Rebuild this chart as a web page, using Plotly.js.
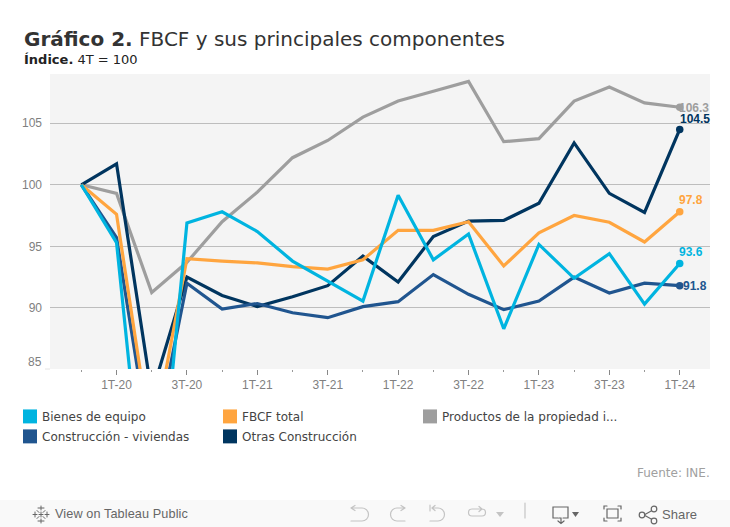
<!DOCTYPE html>
<html><head><meta charset="utf-8">
<script src="https://cdn.plot.ly/plotly-3.0.1.min.js"></script>
<style>
html,body{margin:0;padding:0;background:#fff;width:730px;height:527px;overflow:hidden}
#c{position:absolute;left:0;top:0;width:730px;height:527px}
#bar{position:absolute;left:0;top:500px;width:730px;height:27px;background:#f9f9f9;font-family:"Liberation Sans",Arial,sans-serif;font-size:13px;color:#666}
#bar span{position:absolute;top:6px;letter-spacing:.1px}
#bar svg{position:absolute;left:0;top:0}
</style></head><body>
<div id="c"></div>
<div id="bar">
<svg width="730" height="27" fill="none" stroke-linecap="round">
<g stroke="#666" stroke-width="1">
<path d="M41 6v4M41 19v4M38 8h6M38 21h6M33 14.500h4M45 14.500h4M35 12v5M47 12v5M37 10.500l2 2M45 10.500l-2 2M37 18.500l2-2M45 18.500l-2-2M41 12v5M39 14.500h4"/>
</g>
<g stroke="#c4c4c4" stroke-width="1.200">
<path d="M351 8h11a6 6 0 0 1 0 13h-11M351 8l4-2.500M351 8l4 2.500"/>
<path d="M405 8h-8a6 6 0 0 0 0 13h8M405 8l-4-2.500M405 8l-4 2.500"/>
<path d="M430 5v6M432 8h6a6 6 0 0 1 0 13h-8M432 8l3-2.500M432 8l3 2.500"/>
<path d="M482 9h-10a3.500 3.500 0 0 0 0 7h10a3.500 3.500 0 0 0 0-7M482 9l-3-2.500M482 9l-3 2.500"/>
<path d="M525 3v15"/>
</g>
<path d="M496 12h8l-4 5z" fill="#c4c4c4"/>
<g stroke="#666" stroke-width="1.200">
<path d="M558 18h-5v-11h15v11h-5M559 18h2v4M558 21l3 2.500 3-2.500"/>
<path d="M604 9v-3h3M618 6h3v3M621 18v3h-3M607 21h-3v-3M607 9h11v9h-11z"/>
<path d="M644 15l9-5M644 15l9 5"/>
<circle cx="642" cy="15" r="2.800" fill="#f9f9f9"/><circle cx="654" cy="9" r="2.800" fill="#f9f9f9"/><circle cx="654" cy="21" r="2.800" fill="#f9f9f9"/>
</g>
<path d="M572 12h7l-3.500 5z" fill="#666"/>
</svg>
<span style="left:55px;top:7px;font-size:12.700px">View on Tableau Public</span>
<span style="left:662px;top:7px">Share</span>
</div>
<script>
const quarters = ["4T-19","1T-20","2T-20","3T-20","4T-20","1T-21","2T-21","3T-21","4T-21","1T-22","2T-22","3T-22","4T-22","1T-23","2T-23","3T-23","4T-23","1T-24"];
const bienes = [100,95.3,67.5,96.9,97.8,96.2,93.8,92.2,90.55,99.15,93.9,96.0,88.3,95.15,92.4,94.4,90.3,93.6];
const fbcf = [100,97.6,78.8,94,93.8,93.65,93.35,93.15,93.9,96.3,96.3,97,93.4,96.1,97.5,96.95,95.35,97.8];
const productos = [100,99.3,91.25,93.7,97,99.4,102.2,103.6,105.5,106.8,107.6,108.4,103.5,103.75,106.8,107.95,106.65,106.3];
const viviendas = [100,95.7,77.8,92,89.9,90.35,89.6,89.2,90.1,90.5,92.7,91.1,89.85,90.55,92.5,91.2,92.0,91.8];
const otras = [100,101.7,83,92.5,91,90.1,90.9,91.8,94.2,92.1,95.8,97.05,97.1,98.5,103.4,99.3,97.75,104.5];
const yTicks = [90,95,100,105];
const xLabels = ["1T-20","3T-20","1T-21","3T-21","1T-22","3T-22","1T-23","3T-23","1T-24"];
const xMinor = ["4T-19","2T-20","4T-20","2T-21","4T-21","2T-22","4T-22","2T-23","4T-23"];

const W=730,H=527,L=50,R=710,T=74,B=369.5;
const px=x=>(x-L)/(R-L), py=y=>(B-y)/(B-T);
const C={b:"#00B4E0",f:"#FFA53F",p:"#9E9E9E",v:"#20558F",o:"#00355F"};
const series=[
 {name:"Productos de la propiedad i...",y:productos,c:C.p},
 {name:"Otras Construcción",y:otras,c:C.o},
 {name:"Construcción - viviendas",y:viviendas,c:C.v},
 {name:"FBCF total",y:fbcf,c:C.f},
 {name:"Bienes de equipo",y:bienes,c:C.b}
];
const data=series.map(s=>({type:"scatter",mode:"lines+markers",name:s.name,x:quarters,y:s.y,
 line:{color:s.c,width:3.2,shape:"linear"},marker:{color:s.c,opacity:1,size:quarters.map((q,i)=>i===quarters.length-1?7.5:0.01),line:{width:0}},
 hoverinfo:"x+y+name",cliponaxis:true}));

const last=a=>a[a.length-1];
const valueLabel=(a,c,xs,ys)=>({x:"1T-24",y:last(a),xref:"x",yref:"y",text:"<b>"+last(a).toFixed(1)+"</b>",showarrow:false,xanchor:"center",yanchor:"middle",xshift:xs,yshift:ys,font:{family:"Liberation Sans, Arial",size:12,color:c}});
const legendEntries=[
 ["Bienes de equipo",C.b,23,417],["FBCF total",C.f,223,417],["Productos de la propiedad i...",C.p,423,417],
 ["Construcción - viviendas",C.v,23,437],["Otras Construcción",C.o,223,437]];
const ptext=(t,x,y,xa,f)=>({xref:"paper",yref:"paper",x:px(x),y:py(y),text:t,showarrow:false,xanchor:xa,yanchor:"middle",font:f,align:"left"});
const shapes=legendEntries.map(e=>({type:"rect",xref:"paper",yref:"paper",x0:px(e[2]),x1:px(e[2]+14),y0:py(e[3]-7),y1:py(e[3]+7),fillcolor:e[1],line:{width:0}}));
shapes.push({type:"line",xref:"paper",yref:"paper",x0:px(45),x1:px(50),y0:0,y1:0,line:{color:"#e4e4e4",width:1}});
const annotations=[
 ptext('<b>Índice.</b> 4T = 100',22,59,"left",{family:"DejaVu Sans",size:13,color:"#222"}),
 ptext('85',44,362,"right",{family:"Liberation Sans, Arial",size:12,color:"#808080"}),
 ptext('Fuente: INE.',711.500,474,"right",{family:"DejaVu Sans",size:12,color:"#a0a0a0"}),
 valueLabel(productos,C.p,14,-1),
 valueLabel(otras,C.o,15,10),
 valueLabel(fbcf,C.f,11,12),
 valueLabel(bienes,C.b,11,12),
 valueLabel(viviendas,C.v,15,0),
 ...legendEntries.map(e=>ptext(e[0],e[2]+17,e[3]+0.7,"left",{family:"DejaVu Sans",size:12,color:"#444"}))
];
const layout={width:W,height:H,paper_bgcolor:"#fff",plot_bgcolor:"#f4f4f4",showlegend:false,
 margin:{l:L,r:W-R,t:T,b:H-B,pad:0},
 title:{text:"<b>Gráfico 2.</b> FBCF y sus principales componentes",xref:"container",yref:"container",x:24/W,xanchor:"left",y:1-38.5/H,yanchor:"middle",pad:{l:0,r:0,t:0,b:0},font:{family:"DejaVu Sans",size:20,color:"#333"}},
 xaxis:{type:"category",categoryorder:"array",categoryarray:quarters,range:[-0.89,17.86],tickmode:"array",tickvals:xLabels,ticktext:xLabels,ticks:"outside",ticklen:5,tickcolor:"#888",tickwidth:1,
  minor:{tickmode:"array",tickvals:xMinor,ticks:"outside",ticklen:2,tickcolor:"#999",tickwidth:1,showgrid:false},
  showgrid:false,zeroline:false,showline:false,fixedrange:true,tickfont:{family:"Liberation Sans, Arial",size:12,color:"#808080"},ticklabelstandoff:0},
 yaxis:{range:[85.03,109],tickmode:"array",tickvals:yTicks,ticks:"",showgrid:true,gridcolor:"#bdbdbd",gridwidth:1,zeroline:false,showline:false,fixedrange:true,tickfont:{family:"Liberation Sans, Arial",size:12,color:"#808080"},ticklabelstandoff:7},
 shapes:shapes,annotations:annotations};
Plotly.newPlot("c",data,layout,{displayModeBar:false});
</script>
</body></html>
